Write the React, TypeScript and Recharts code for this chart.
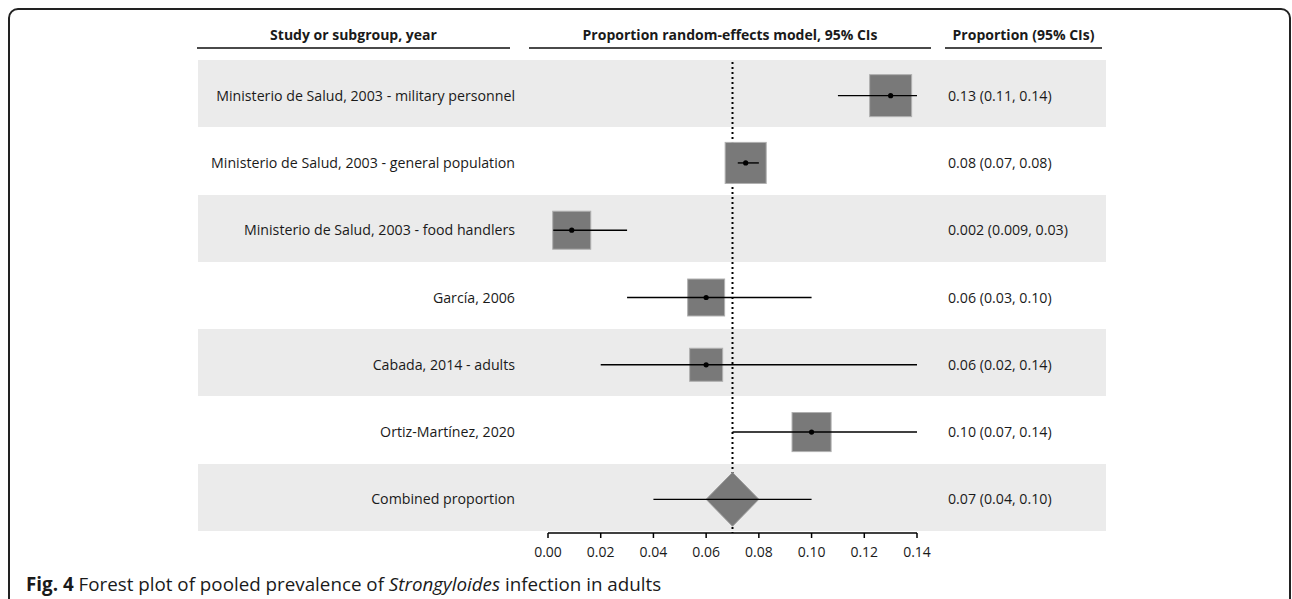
import React from "react";
import { ComposedChart, Scatter, XAxis, YAxis } from "recharts";

const studies = [
  "Ministerio de Salud, 2003 - military personnel",
  "Ministerio de Salud, 2003 - general population",
  "Ministerio de Salud, 2003 - food handlers",
  "García, 2006",
  "Cabada, 2014 - adults",
  "Ortiz-Martínez, 2020",
  "Combined proportion",
];
const estimates = [0.13, 0.075, 0.009, 0.06, 0.06, 0.1, 0.07];
const lower = [0.11, 0.072, 0.002, 0.03, 0.02, 0.07, 0.04];
const upper = [0.14, 0.08, 0.03, 0.1, 0.14, 0.14, 0.1];
// study weights (%), combined row has none
const weights = [19.9, 19.0, 16.3, 15.4, 12.3, 17.2];
const ciLabels = [
  "0.13 (0.11, 0.14)",
  "0.08 (0.07, 0.08)",
  "0.002 (0.009, 0.03)",
  "0.06 (0.03, 0.10)",
  "0.06 (0.02, 0.14)",
  "0.10 (0.07, 0.14)",
  "0.07 (0.04, 0.10)",
];
const pooledLow = 0.06;
const pooledHigh = 0.08;
const nullValue = 0.07;
const xTicks = [0, 0.02, 0.04, 0.06, 0.08, 0.1, 0.12, 0.14];

const FONT = "'Open Sans', 'DejaVu Sans', sans-serif";
const TEXT = "#1a1a1a";
const BOX = "#797979";

const rowIdx = studies.map((_, i) => i);
const combinedIdx = studies.length - 1;
const yDomain = [-0.5, studies.length - 0.5];

const rows = studies.map((name, i) => ({
  name,
  row: i,
  est: estimates[i],
  weight: weights[i],
  combined: i === combinedIdx,
}));
const boxRows = rows.filter((r) => !r.combined);
const dotRows = boxRows;

// CI endpoints, consecutive pairs form one whisker
const ciEnds = rows.flatMap((r, i) => [
  { est: lower[i], row: r.row },
  { est: upper[i], row: r.row },
]);

const refEnds = [
  { est: nullValue, row: yDomain[0] },
  { est: nullValue, row: yDomain[1] },
];

const dHalf = 0.4;
const diamond = [
  { est: pooledLow, row: combinedIdx },
  { est: estimates[combinedIdx], row: combinedIdx - dHalf },
  { est: pooledHigh, row: combinedIdx },
  { est: estimates[combinedIdx], row: combinedIdx + dHalf },
];

// layout
const TABLE_L = 198;
const TABLE_R = 1106;
const BAND_TOP = 60;
const PLOT_TOP = 62;
const PLOT_H = 471;
const AXIS_H = 40;
const ROW_H = PLOT_H / studies.length;

type Pt = { x: number; y: number };

const BoxShape = (props: any) => {
  const { cx, cy, payload } = props;
  const s = Math.sqrt(payload.weight) * 9.42;
  return (
    <rect
      x={cx - s / 2}
      y={cy - s / 2}
      width={s}
      height={s}
      fill={BOX}
      stroke="#b0b0b0"
      strokeWidth={1}
    />
  );
};

const DotShape = (props: any) => (
  <circle cx={props.cx} cy={props.cy} r={2.6} fill="#000" />
);

const NoShape = () => <g />;

const DiamondLine = (props: any) => {
  const pts = (props.points || []) as Pt[];
  return (
    <polygon
      points={pts.map((p) => `${p.x},${p.y}`).join(" ")}
      fill={BOX}
      stroke="#9a9a9a"
      strokeWidth={1}
    />
  );
};

const Whiskers = (props: any) => {
  const pts = (props.points || []) as Pt[];
  const segs = [];
  for (let i = 0; i + 1 < pts.length; i += 2) {
    segs.push(
      <line
        key={i}
        x1={pts[i].x}
        y1={pts[i].y}
        x2={pts[i + 1].x}
        y2={pts[i + 1].y}
        stroke="#000"
        strokeWidth={1.4}
      />
    );
  }
  return <g>{segs}</g>;
};

const DottedRef = (props: any) => {
  const pts = (props.points || []) as Pt[];
  if (pts.length < 2) return <g />;
  return (
    <line
      x1={pts[0].x}
      y1={pts[0].y}
      x2={pts[1].x}
      y2={pts[1].y}
      stroke="#000"
      strokeWidth={2}
      strokeDasharray="2 3"
    />
  );
};

const headerStyle: React.CSSProperties = {
  position: "absolute",
  top: 25,
  fontFamily: FONT,
  fontWeight: 700,
  fontSize: 14,
  color: TEXT,
  textAlign: "center",
  whiteSpace: "nowrap",
};

const rule = (left: number, right: number): React.CSSProperties => ({
  position: "absolute",
  top: 47,
  left,
  width: right - left,
  height: 2,
  background: "#4a4a4a",
});

export default function App() {
  return (
    <div
      style={{
        position: "relative",
        width: 1292,
        height: 599,
        overflow: "hidden",
        background: "#fff",
        fontFamily: FONT,
      }}
    >
      <style>{"body{margin:0}"}</style>
      <div
        style={{
          position: "absolute",
          left: 8,
          top: 8,
          width: 1279,
          height: 660,
          border: "2px solid #222",
          borderRadius: 10,
        }}
      />

      <div style={{ ...headerStyle, left: 197, width: 313 }}>
        Study or subgroup, year
      </div>
      <div style={{ ...headerStyle, left: 529, width: 402 }}>
        Proportion random-effects model, 95% CIs
      </div>
      <div style={{ ...headerStyle, left: 945, width: 157 }}>
        Proportion (95% CIs)
      </div>
      <div style={rule(197, 510)} />
      <div style={rule(529, 931)} />
      <div style={rule(945, 1102)} />

      {rowIdx
        .filter((i) => i % 2 === 0)
        .map((i) => (
          <div
            key={i}
            style={{
              position: "absolute",
              left: TABLE_L,
              top: BAND_TOP + i * ROW_H,
              width: TABLE_R - TABLE_L,
              height: ROW_H,
              background: "#ebebeb",
            }}
          />
        ))}

      <div style={{ position: "absolute", left: TABLE_L, top: PLOT_TOP }}>
        <ComposedChart
          width={TABLE_R - TABLE_L}
          height={PLOT_H + AXIS_H}
          data={rows}
          margin={{ top: 0, right: 0, bottom: 0, left: 0 }}
        >
          <XAxis
            type="number"
            dataKey="est"
            domain={[0, 0.14]}
            allowDataOverflow
            ticks={xTicks}
            tickFormatter={(v: number) => v.toFixed(2)}
            height={AXIS_H}
            axisLine={{ stroke: "#000", strokeWidth: 1.5 }}
            tickLine={{ stroke: "#000", strokeWidth: 1.5 }}
            tickSize={5}
            tickMargin={9}
            tick={{ fill: TEXT, fontSize: 14, fontFamily: FONT }}
            interval={0}
          />
          <YAxis
            yAxisId="left"
            type="number"
            dataKey="row"
            domain={yDomain}
            allowDataOverflow
            reversed
            ticks={rowIdx}
            interval={0}
            tickFormatter={(v: number) => studies[v] ?? ""}
            width={350}
            axisLine={false}
            tickLine={false}
            tickSize={0}
            tickMargin={33}
            tick={{ fill: TEXT, fontSize: 14.2, fontFamily: FONT }}
          />
          <YAxis
            yAxisId="right"
            orientation="right"
            type="number"
            dataKey="row"
            domain={yDomain}
            allowDataOverflow
            reversed
            ticks={rowIdx}
            interval={0}
            tickFormatter={(v: number) => ciLabels[v] ?? ""}
            width={TABLE_R - 917}
            axisLine={false}
            tickLine={false}
            tickSize={0}
            tickMargin={31}
            tick={{ fill: TEXT, fontSize: 14.2, fontFamily: FONT, textAnchor: "start" }}
          />
          <Scatter
            yAxisId="right"
            data={rows}
            dataKey="row"
            shape={NoShape}
            isAnimationActive={false}
          />
          <Scatter
            yAxisId="left"
            data={refEnds}
            dataKey="row"
            line={DottedRef}
            lineType="joint"
            shape={NoShape}
            isAnimationActive={false}
          />
          <Scatter
            yAxisId="left"
            data={boxRows}
            dataKey="row"
            shape={BoxShape}
            isAnimationActive={false}
          />
          <Scatter
            yAxisId="left"
            data={diamond}
            dataKey="row"
            line={DiamondLine}
            lineType="joint"
            shape={NoShape}
            isAnimationActive={false}
          />
          <Scatter
            yAxisId="left"
            data={ciEnds}
            dataKey="row"
            line={Whiskers}
            lineType="joint"
            shape={NoShape}
            isAnimationActive={false}
          />
          <Scatter
            yAxisId="left"
            data={dotRows}
            dataKey="row"
            shape={DotShape}
            isAnimationActive={false}
          />
        </ComposedChart>
      </div>

      <div
        style={{
          position: "absolute",
          left: 26,
          top: 571,
          fontFamily: FONT,
          fontSize: 18.8,
          color: TEXT,
          whiteSpace: "nowrap",
        }}
      >
        <b>Fig. 4</b> Forest plot of pooled prevalence of <i>Strongyloides</i>{" "}
        infection in adults
      </div>
    </div>
  );
}
